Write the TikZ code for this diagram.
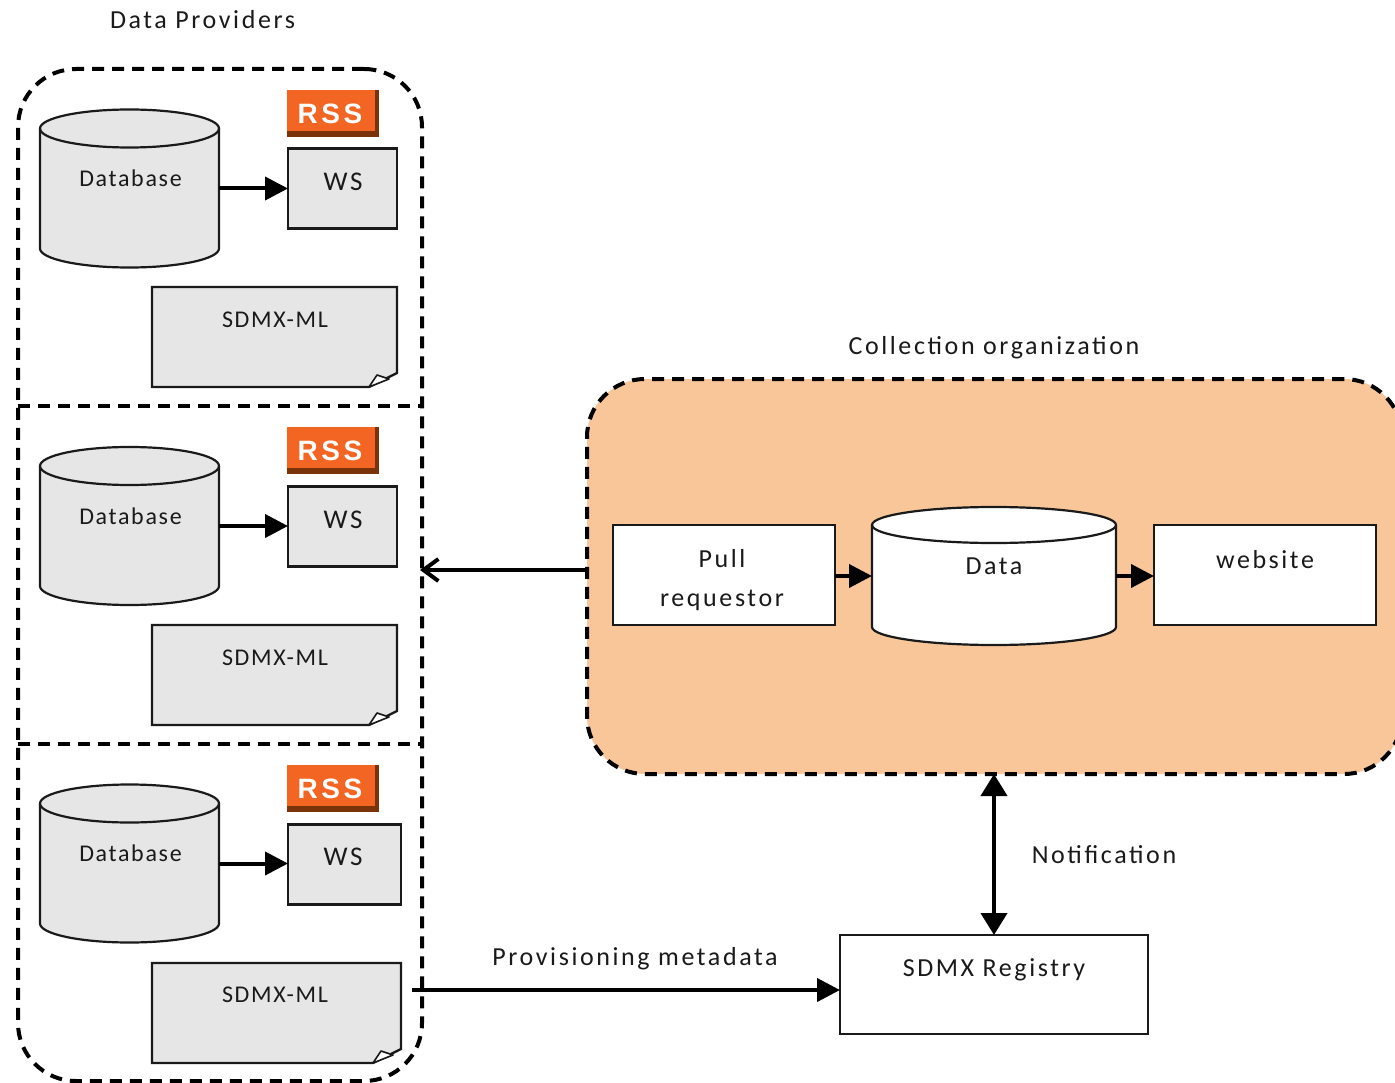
\documentclass[tikz,border=0pt]{standalone}
\usepackage{fontspec}
\setmainfont[LetterSpace=7]{Carlito}
\newfontfamily\widefont[LetterSpace=10]{Carlito}
\newfontfamily\rssfont[LetterSpace=13]{Liberation Sans}
\usetikzlibrary{arrows.meta}
\definecolor{boxgrey}{HTML}{E6E6E6}
\definecolor{panel}{HTML}{F8C698}
\definecolor{rssorange}{HTML}{F26522}
\definecolor{rssdark}{HTML}{7A3209}
\definecolor{ink}{HTML}{1A1A1A}
\tikzset{
  x=1pt,y=-1pt,
  lbl/.style={font=\fontsize{24}{24}\selectfont,text=ink,inner sep=0pt,outer sep=0pt,align=center},
  wlbl/.style={font=\widefont\fontsize{26}{26}\selectfont,text=ink,inner sep=0pt,outer sep=0pt,align=center},
  plainbox/.style={draw=ink,line width=2.4pt,inner sep=0pt,outer sep=0pt,shape=rectangle},
  greybox/.style={plainbox,fill=boxgrey},
  whitebox/.style={plainbox,fill=white},
  frame/.style={shape=rectangle,inner sep=0pt,outer sep=0pt},
  cylline/.style={draw=ink,line width=2.2pt,line join=round},
  region/.style={shape=rectangle,draw=black,line width=4pt,dash pattern=on 12pt off 8pt,rounded corners=58pt,inner sep=0pt,outer sep=0pt},
  divider/.style={draw=black,line width=4pt,dash pattern=on 12pt off 8pt},
  arr/.style={draw=black,line width=4pt,-{Triangle[length=23pt,width=23pt]}},
  openarr/.style={draw=black,line width=4pt,-{Straight Barb[length=15pt,width=22pt,line width=4pt]}},
  dblarr/.style={draw=black,line width=4pt,{Triangle[length=22pt,width=26pt]}-{Triangle[length=22pt,width=26pt]}},
  rssbase/.style={shape=rectangle,fill=rssdark,inner sep=0pt,outer sep=0pt,minimum width=92pt,minimum height=47pt},
  rsstext/.style={font=\rssfont\bfseries\fontsize{28}{28}\selectfont,text=white,inner sep=0pt,outer sep=0pt},
}
% #1 node name, #2 fill, #3 half width, #4 cap radius
\newcommand{\cylinderdraw}[4]{%
  \pgfmathsetmacro{\kx}{0.5523*#3}%
  \pgfmathsetmacro{\ky}{0.5523*#4}%
  \coordinate (#1tl) at ([yshift=-#4pt]#1.north west);
  \coordinate (#1tr) at ([yshift=-#4pt]#1.north east);
  \coordinate (#1bl) at ([yshift=#4pt]#1.south west);
  \coordinate (#1br) at ([yshift=#4pt]#1.south east);
  \coordinate (#1mid) at ([yshift=-#4pt*2]#1.north);
  \draw[cylline,fill=#2] (#1tl) -- (#1bl)
    .. controls +(0,\ky) and +(-\kx,0) .. (#1.south)
    .. controls +(\kx,0) and +(0,\ky) .. (#1br) -- (#1tr)
    .. controls +(0,-\ky) and +(\kx,0) .. (#1.north)
    .. controls +(-\kx,0) and +(0,-\ky) .. (#1tl) -- cycle;
  \draw[cylline] (#1tl)
    .. controls +(0,\ky) and +(-\kx,0) .. (#1mid)
    .. controls +(\kx,0) and +(0,\ky) .. (#1tr);
}
\newcommand{\provider}[6]{%
  % #1 suffix, #2 db y, #3 rss y, #4 ws/doc y offset, #5 right edge, #6 label y offset
  \node[frame,minimum width=179pt,minimum height=158pt] (db#1) at (129.5,#2) {};
  \cylinderdraw{db#1}{boxgrey}{89.5}{19}
  \node[lbl] (dbl#1) at (130.5,{#2-10}) {Database};
  \node[rssbase] (rss#1) at (333,#3) {};
  \fill[rssorange] (rss#1.north west) rectangle ([xshift=-4pt,yshift=6pt]rss#1.south east);
  \node[rsstext] (rsst#1) at (330,{#3}) {RSS};
  \node[greybox,minimum width={#5pt-288pt},minimum height=80pt] (ws#1) at ({(288+#5)/2},{188.5+#4}) {};
  \node[font=\widefont\fontsize{27}{27}\selectfont,text=ink,inner sep=0pt,outer sep=0pt] (wsl#1) at (343,{182+#6}) {WS};
  \node[frame,minimum width={#5pt-152pt},minimum height=100pt] (doc#1) at ({(152+#5)/2},{337+#4}) {};
  \draw[line width=2.4pt,draw=ink,fill=boxgrey,line join=miter]
    (doc#1.north west) -- (doc#1.north east) -- ([yshift=14pt]doc#1.south east)
    -- ([xshift=-28pt]doc#1.south east) -- (doc#1.south west) -- cycle;
  \draw[line width=1.6pt,draw=ink,fill=white,line join=round]
    ([xshift=-28pt]doc#1.south east) -- ([xshift=-20pt,yshift=12pt]doc#1.south east)
    -- ([xshift=-8pt,yshift=8pt]doc#1.south east) -- cycle;
  \node[lbl] (docl#1) at (275,{320+#6}) {SDMX-ML};
  \draw[arr] (db#1.east) -- (ws#1.west |- db#1.east);
}
\begin{document}
\begin{tikzpicture}
\useasboundingbox (0,0) rectangle (1395,1083);
\fill[white] (0,0) rectangle (1395,1083);

\node[wlbl] (dptitle) at (202.5,20) {Data Providers};
\node[region,minimum width=404pt,minimum height=1012pt] (providers) at (220,575) {};
\coordinate (divAl) at (18,406);\coordinate (divAr) at (422,406);
\coordinate (divBl) at (18,744);\coordinate (divBr) at (422,744);
\draw[divider] (divAl) -- (divAr);
\draw[divider] (divBl) -- (divBr);

\provider{1}{188.5}{113.5}{0}{397}{0}
\provider{2}{526}{450.5}{338}{397}{338}
\provider{3}{863.5}{788.5}{676}{401}{675}

\node[wlbl] (cotitle) at (994,348) {Collection organization};
\node[region,fill=panel,minimum width=815pt,minimum height=395pt] (collect) at (994.5,576.5) {};

\node[whitebox,minimum width=222pt,minimum height=100pt] (pull) at (724,575) {};
\node[wlbl] (pulla) at (722,559) {Pull};
\node[wlbl] (pullb) at (722,600) {requestor};
\node[frame,minimum width=244pt,minimum height=138pt] (data) at (994,576) {};
\cylinderdraw{data}{white}{122}{18}
\node[wlbl] (datal) at (994,566) {Data};
\node[whitebox,minimum width=222pt,minimum height=100pt] (web) at (1265,575) {};
\node[wlbl] (webl) at (1265,559.5) {website};
\draw[arr] (pull.east |- data.west) -- (data.west);
\draw[arr] (data.east) -- (web.west |- data.east);

\node[whitebox,minimum width=308pt,minimum height=99pt] (reg) at (994,984.5) {};
\node[wlbl] (regl) at (994,970) {SDMX Registry};
\node[wlbl] (notif) at (1104,855) {Notification};
\node[wlbl] (prov) at (635,959) {Provisioning metadata};

\coordinate (backfrom) at (585,570);
\coordinate (backto) at (420,570);
\draw[openarr] (backfrom) -- (backto);
\draw[dblarr] (reg.north |- collect.south) -- (reg.north);
\coordinate (provfrom) at (412,990);
\coordinate (provto) at (840,990);
\draw[arr] (provfrom) -- (provto);
\end{tikzpicture}
\end{document}
